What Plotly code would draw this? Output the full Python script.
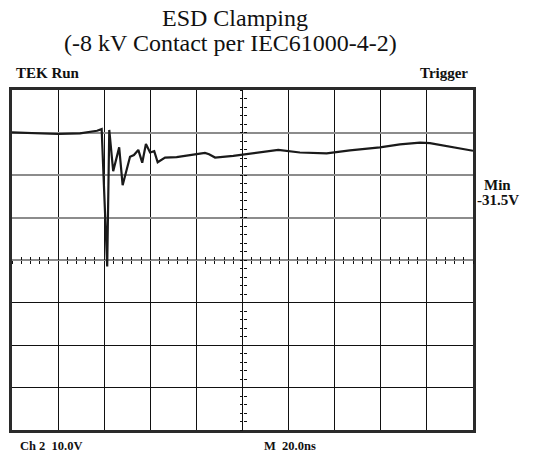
import plotly.graph_objects as go

# time in ns (20 ns/div, 10 div), voltage in V (10 V/div)
time_ns = [0, 20, 29.5, 33.8, 36.9, 38.9, 41.3, 42.2, 43.9, 46.5, 48.0, 51.2, 52.9,
           54.8, 56.5, 58.1, 59.9, 61.7, 63.2, 66.4, 71.4, 80.1, 83.7, 85.5, 88.1,
           96.0, 111.9, 115.5, 124.9, 136.5, 146.6, 159.6, 168.3, 177.0, 181.3,
           190.0, 200.0]
volts = [0.05, -0.35, -0.2, 0.05, 0.4, 0.8, -31.5, 0.6, -9.1, -3.5, -12.4, -5.7, -5.3,
         -4.1, -7.1, -2.7, -4.7, -4.4, -7.0, -5.9, -5.8, -5.1, -4.8, -5.1, -5.9,
         -5.5, -4.4, -4.1, -4.7, -4.9, -4.2, -3.5, -2.8, -2.4, -2.5,
         -3.3, -4.3]

title_lines = ["ESD Clamping", "(-8 kV Contact per IEC61000-4-2)"]
top_left_label = "TEK Run"
top_right_label = "Trigger"
side_label = ["Min", "-31.5V"]
bottom_left_label = "Ch 2  10.0V"
bottom_mid_label = "M  20.0ns"

X_RANGE = [0, 200]
Y_RANGE = [-70, 10]
serif = "Liberation Serif, Times New Roman, serif"

fig = go.Figure()
fig.add_trace(go.Scatter(x=time_ns, y=volts, mode="lines",
                         line=dict(color="#1a1a1a", width=2.2), showlegend=False,
                         hoverinfo="skip"))

common_hidden = dict(showticklabels=False, zeroline=False, fixedrange=True)

fig.update_layout(
    width=538, height=458,
    margin=dict(l=12, r=65, t=90, b=28),
    paper_bgcolor="white", plot_bgcolor="white",
    xaxis=dict(range=X_RANGE, dtick=20, tick0=0, showgrid=True, gridcolor="#111111",
               gridwidth=1, ticks="", showline=True, mirror=True,
               linecolor="#2a2a2a", linewidth=2.5, **common_hidden),
    yaxis=dict(range=Y_RANGE, tickvals=[-60, -50, -40], showgrid=True,
               gridcolor="#111111", gridwidth=1, ticks="", showline=True,
               mirror=True, linecolor="#2a2a2a", linewidth=2.5, **common_hidden),
    yaxis2=dict(range=Y_RANGE, overlaying="y", tickvals=[-30, -20, -10, 0],
                showgrid=True, gridcolor="#8c8c8c", gridwidth=1.5, ticks="",
                showline=False, **common_hidden),
    # minor tick marks along the centre horizontal line
    xaxis3=dict(range=X_RANGE, overlaying="x", anchor="free", position=0.5,
                dtick=4, tick0=0, ticks="inside", ticklen=3, tickwidth=1,
                tickcolor="#111111", showgrid=False, showline=False, **common_hidden),
    xaxis4=dict(range=X_RANGE, overlaying="x", anchor="free", position=0.5,
                dtick=4, tick0=0, ticks="outside", ticklen=3, tickwidth=1,
                tickcolor="#111111", showgrid=False, showline=False, **common_hidden),
    # minor tick marks along the centre vertical line
    yaxis3=dict(range=Y_RANGE, overlaying="y", anchor="free", position=0.5,
                dtick=2, tick0=0, ticks="inside", ticklen=3, tickwidth=1,
                tickcolor="#111111", showgrid=False, showline=False, **common_hidden),
    yaxis4=dict(range=Y_RANGE, overlaying="y", anchor="free", position=0.5,
                dtick=2, tick0=0, ticks="outside", ticklen=3, tickwidth=1,
                tickcolor="#111111", showgrid=False, showline=False, **common_hidden),
)

# invisible helper traces so the extra axes are rendered
for xa, ya in [("x", "y2"), ("x3", "y"), ("x4", "y"), ("x", "y3"), ("x", "y4")]:
    fig.add_trace(go.Scatter(x=[None], y=[None], xaxis=xa, yaxis=ya,
                             showlegend=False, hoverinfo="skip"))

def py(px):  # pixel y from top -> paper
    return 1 - (px - 90) / 340.0
def pxx(px):  # pixel x from left -> paper
    return (px - 12) / 461.0

ann = []
ann.append(dict(text=title_lines[0], x=pxx(235), y=py(18), font=dict(family=serif, size=24, color="#111")))
ann.append(dict(text=title_lines[1], x=pxx(230), y=py(43), font=dict(family=serif, size=24, color="#111")))
ann.append(dict(text="<b>%s</b>" % top_left_label, x=pxx(14), y=py(73), xanchor="left",
                font=dict(family=serif, size=15, color="#111")))
ann.append(dict(text="<b>%s</b>" % top_right_label, x=pxx(470), y=py(73), xanchor="right",
                font=dict(family=serif, size=15, color="#111")))
ann.append(dict(text="<b>%s</b>" % side_label[0], x=pxx(498), y=py(185),
                font=dict(family=serif, size=15, color="#111")))
ann.append(dict(text="<b>%s</b>" % side_label[1], x=pxx(498), y=py(200),
                font=dict(family=serif, size=15, color="#111")))
ann.append(dict(text="<b>%s</b>" % bottom_left_label, x=pxx(18), y=py(446), xanchor="left",
                font=dict(family=serif, size=12.5, color="#111")))
ann.append(dict(text="<b>%s</b>" % bottom_mid_label, x=pxx(262), y=py(446), xanchor="left",
                font=dict(family=serif, size=12.5, color="#111")))
for a in ann:
    a.update(xref="paper", yref="paper", showarrow=False, yanchor="middle")
    a.setdefault("xanchor", "center")
fig.update_layout(annotations=ann)

fig.write_html("out.html")
